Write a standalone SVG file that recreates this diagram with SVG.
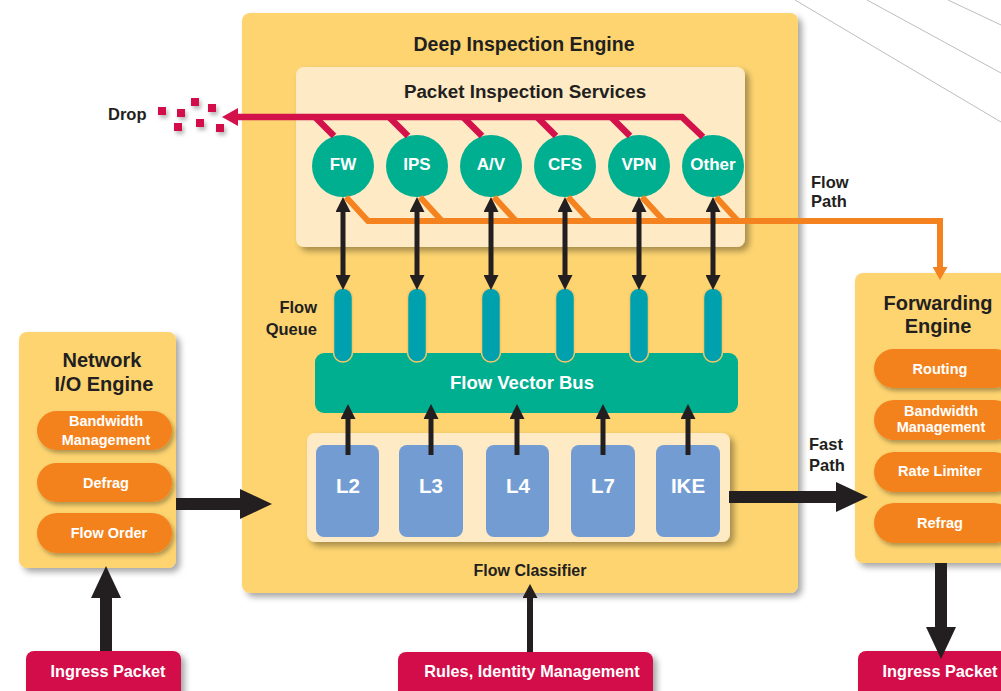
<svg xmlns="http://www.w3.org/2000/svg" width="1001" height="691" viewBox="0 0 1001 691">
<style>
text{font-family:"Liberation Sans",Arial,sans-serif;font-weight:bold}
.dk{fill:#231F20}
.wt{fill:#FFFFFF}
.c{text-anchor:middle}
.yel{fill:#FDD470}
.crm{fill:#FEEBC5}
.pill{fill:#F4821F}
.svc{fill:#00AE90}
.q{fill:#00A1AF;stroke:#F7C765;stroke-width:1.5}
.lb{fill:#739DD2}
.red{fill:#D3114A}
.deco{stroke:#B5B5B5;stroke-width:0.9;fill:none}
.blk{stroke:#231F20;fill:none}
.rl{stroke:#D3114A;stroke-width:6.5;fill:none}
.ol{stroke:#F4821F;stroke-width:6;fill:none}
</style>
<defs>
<filter id="sh" x="-10%" y="-10%" width="130%" height="130%"><feDropShadow dx="4" dy="4" stdDeviation="3" flood-color="#000" flood-opacity="0.35"/></filter>
<filter id="sh2" x="-10%" y="-20%" width="130%" height="160%"><feDropShadow dx="2" dy="3" stdDeviation="2" flood-color="#000" flood-opacity="0.3"/></filter>
<marker id="mSm" viewBox="0 0 15 15" markerWidth="15" markerHeight="15" refX="1" refY="7.5" orient="auto-start-reverse" markerUnits="userSpaceOnUse"><path d="M0,0 L15,7.5 L0,15 z" fill="#231F20"/></marker>
<marker id="mMed" viewBox="0 0 14 15" markerWidth="14" markerHeight="15" refX="1" refY="7.5" orient="auto" markerUnits="userSpaceOnUse"><path d="M0,0 L14,7.5 L0,15 z" fill="#231F20"/></marker>
<marker id="mBig" viewBox="0 0 32 30" markerWidth="32" markerHeight="30" refX="1" refY="15" orient="auto" markerUnits="userSpaceOnUse"><path d="M0,0 L32,15 L0,30 z" fill="#231F20"/></marker>
<marker id="mRed" viewBox="0 0 16 18" markerWidth="16" markerHeight="18" refX="1" refY="9" orient="auto" markerUnits="userSpaceOnUse"><path d="M0,0 L16,9 L0,18 z" fill="#D3114A"/></marker>
<marker id="mOr" viewBox="0 0 13 15" markerWidth="13" markerHeight="15" refX="1" refY="7.5" orient="auto" markerUnits="userSpaceOnUse"><path d="M0,0 L13,7.5 L0,15 z" fill="#F4821F"/></marker>
</defs>
<rect width="1001" height="691" fill="#FFFFFF"/>
<g id="decoration">
<line class="deco" x1="795" y1="0" x2="1001" y2="122"/>
<line class="deco" x1="867" y1="0" x2="1001" y2="73"/>
<line class="deco" x1="948" y1="0" x2="1001" y2="25"/>
</g>
<g id="deep-inspection-engine">
<rect class="yel" x="242" y="13" width="556" height="580" rx="8" filter="url(#sh)"/>
<text class="dk c" x="524" y="51" font-size="19.5">Deep Inspection Engine</text>
</g>
<g id="packet-inspection-services">
<rect class="crm" x="296" y="67" width="449" height="180" rx="8" filter="url(#sh)"/>
<text class="dk c" x="525" y="98" font-size="18.8">Packet Inspection Services</text>
</g>
<g id="svc-fw"><circle class="svc" cx="343" cy="166" r="31"/><text class="wt c" x="343" y="170" font-size="17">FW</text></g>
<g id="svc-ips"><circle class="svc" cx="417" cy="166" r="31"/><text class="wt c" x="417" y="170" font-size="17">IPS</text></g>
<g id="svc-av"><circle class="svc" cx="491" cy="166" r="31"/><text class="wt c" x="491" y="170" font-size="17">A/V</text></g>
<g id="svc-cfs"><circle class="svc" cx="565" cy="166" r="31"/><text class="wt c" x="565" y="170" font-size="17">CFS</text></g>
<g id="svc-vpn"><circle class="svc" cx="639" cy="166" r="31"/><text class="wt c" x="639" y="170" font-size="17">VPN</text></g>
<g id="svc-other"><circle class="svc" cx="713" cy="166" r="31"/><text class="wt c" x="713" y="170" font-size="17">Other</text></g>
<g id="flow-vector-bus">
<rect class="svc" x="315" y="353" width="423" height="60" rx="9"/>
<text class="wt c" x="522" y="389" font-size="18.5">Flow Vector Bus</text>
</g>
<g id="flow-queue">
<rect class="q" x="333.5" y="288" width="19" height="74" rx="9.5"/>
<rect class="q" x="407.5" y="288" width="19" height="74" rx="9.5"/>
<rect class="q" x="481.5" y="288" width="19" height="74" rx="9.5"/>
<rect class="q" x="555.5" y="288" width="19" height="74" rx="9.5"/>
<rect class="q" x="629.5" y="288" width="19" height="74" rx="9.5"/>
<rect class="q" x="703.5" y="288" width="19" height="74" rx="9.5"/>
<text class="dk" text-anchor="end" x="317" y="313" font-size="16.5">Flow</text>
<text class="dk" text-anchor="end" x="317" y="335" font-size="16.5">Queue</text>
</g>
<g id="flow-classifier">
<rect class="crm" x="307" y="433" width="423" height="109" rx="8" filter="url(#sh)"/>
<text class="dk c" x="530" y="576" font-size="16">Flow Classifier</text>
</g>
<g id="cls-l2"><rect class="lb" x="316" y="445" width="63" height="92" rx="8"/><text class="wt c" x="348" y="493" font-size="20.5">L2</text></g>
<g id="cls-l3"><rect class="lb" x="399" y="445" width="64" height="92" rx="8"/><text class="wt c" x="431" y="493" font-size="20.5">L3</text></g>
<g id="cls-l4"><rect class="lb" x="486" y="445" width="63" height="92" rx="8"/><text class="wt c" x="518" y="493" font-size="20.5">L4</text></g>
<g id="cls-l7"><rect class="lb" x="571" y="445" width="64" height="92" rx="8"/><text class="wt c" x="603" y="493" font-size="20.5">L7</text></g>
<g id="cls-ike"><rect class="lb" x="656" y="445" width="64" height="92" rx="8"/><text class="wt c" x="688" y="493" font-size="20.5">IKE</text></g>
<g id="network-io-engine">
<rect class="yel" x="19" y="332" width="157" height="236" rx="8" filter="url(#sh)"/>
<text class="dk c" x="102" y="367" font-size="20">Network</text>
<text class="dk c" x="104" y="391" font-size="20">I/O Engine</text>
<rect class="pill" x="37" y="411" width="135" height="39" rx="19.5" filter="url(#sh2)"/>
<text class="wt c" x="106" y="426" font-size="14.5">Bandwidth</text>
<text class="wt c" x="106" y="445" font-size="14.5">Management</text>
<rect class="pill" x="37" y="463" width="135" height="39" rx="19.5" filter="url(#sh2)"/>
<text class="wt c" x="106" y="488" font-size="14.5">Defrag</text>
<rect class="pill" x="37" y="513" width="135" height="40" rx="20" filter="url(#sh2)"/>
<text class="wt c" x="109" y="538" font-size="14.5">Flow Order</text>
</g>
<g id="forwarding-engine">
<rect class="yel" x="855" y="273" width="160" height="290" rx="8" filter="url(#sh)"/>
<text class="dk c" x="938" y="310" font-size="20">Forwarding</text>
<text class="dk c" x="938" y="333" font-size="20">Engine</text>
<rect class="pill" x="874" y="349" width="140" height="39" rx="19.5" filter="url(#sh2)"/>
<text class="wt c" x="940" y="374" font-size="14.5">Routing</text>
<rect class="pill" x="874" y="400" width="140" height="40" rx="20" filter="url(#sh2)"/>
<text class="wt c" x="941" y="416" font-size="14.5">Bandwidth</text>
<text class="wt c" x="941" y="432" font-size="14.5">Management</text>
<rect class="pill" x="874" y="452" width="140" height="40" rx="20" filter="url(#sh2)"/>
<text class="wt c" x="940" y="476" font-size="14.5">Rate Limiter</text>
<rect class="pill" x="874" y="503" width="140" height="40" rx="20" filter="url(#sh2)"/>
<text class="wt c" x="940" y="528" font-size="14.5">Refrag</text>
</g>
<g id="ingress-packet-left">
<rect class="red" x="26" y="651" width="155" height="50" rx="8" filter="url(#sh)"/>
<text class="wt c" x="108" y="677" font-size="16.3">Ingress Packet</text>
</g>
<g id="rules-identity">
<rect class="red" x="398" y="652" width="255" height="50" rx="8" filter="url(#sh)"/>
<text class="wt c" x="532" y="677" font-size="16.3">Rules, Identity Management</text>
</g>
<g id="ingress-packet-right">
<rect class="red" x="858" y="651" width="160" height="50" rx="8" filter="url(#sh)"/>
<text class="wt c" x="940" y="677" font-size="16.3">Ingress Packet</text>
</g>
<g id="drop">
<text class="dk" x="108" y="120" font-size="16.5">Drop</text>
<g class="red" filter="url(#sh2)">
<rect x="158" y="107" width="8" height="8"/>
<rect x="177" y="109" width="8" height="8"/>
<rect x="191" y="98" width="8" height="8"/>
<rect x="208" y="104" width="8" height="8"/>
<rect x="174" y="123" width="8" height="8"/>
<rect x="196" y="119" width="8" height="8"/>
<rect x="216" y="124" width="8" height="8"/>
</g>
</g>
<g id="labels">
<text class="dk" x="811" y="188" font-size="16.5">Flow</text>
<text class="dk" x="811" y="207" font-size="16.5">Path</text>
<text class="dk" x="809" y="450" font-size="16.5">Fast</text>
<text class="dk" x="809" y="471" font-size="16.5">Path</text>
</g>
<g id="connectors">
<path class="rl" d="M703,137 L682,117 L237,117" marker-end="url(#mRed)"/>
<path class="rl" d="M334,136 L315,117"/>
<path class="rl" d="M408,136 L389,117"/>
<path class="rl" d="M482,136 L463,117"/>
<path class="rl" d="M556,136 L537,117"/>
<path class="rl" d="M630,136 L611,117"/>
<path class="ol" d="M346,197 L368,221 L940,221 L940,268" marker-end="url(#mOr)"/>
<path class="ol" d="M420,197 L442,221"/>
<path class="ol" d="M494,197 L516,221"/>
<path class="ol" d="M568,197 L590,221"/>
<path class="ol" d="M642,197 L664,221"/>
<path class="ol" d="M716,197 L738,221"/>
<g class="blk" stroke-width="5">
<path d="M343,211 L343,276" marker-start="url(#mSm)" marker-end="url(#mSm)"/>
<path d="M417,211 L417,276" marker-start="url(#mSm)" marker-end="url(#mSm)"/>
<path d="M491,211 L491,276" marker-start="url(#mSm)" marker-end="url(#mSm)"/>
<path d="M565,211 L565,276" marker-start="url(#mSm)" marker-end="url(#mSm)"/>
<path d="M639,211 L639,276" marker-start="url(#mSm)" marker-end="url(#mSm)"/>
<path d="M713,211 L713,276" marker-start="url(#mSm)" marker-end="url(#mSm)"/>
<path d="M348,455 L348,418" marker-end="url(#mSm)"/>
<path d="M431,455 L431,418" marker-end="url(#mSm)"/>
<path d="M517,455 L517,418" marker-end="url(#mSm)"/>
<path d="M603,455 L603,418" marker-end="url(#mSm)"/>
<path d="M688,455 L688,418" marker-end="url(#mSm)"/>
</g>
<path class="blk" stroke-width="6" d="M530,652 L530,597" marker-end="url(#mMed)"/>
<g class="blk" stroke-width="12">
<path d="M106,651 L106,597" marker-end="url(#mBig)"/>
<path d="M176,504 L241,504" marker-end="url(#mBig)"/>
<path d="M729,497 L837,497" marker-end="url(#mBig)"/>
<path d="M941,563 L941,628" marker-end="url(#mBig)"/>
</g>
</g>
</svg>
